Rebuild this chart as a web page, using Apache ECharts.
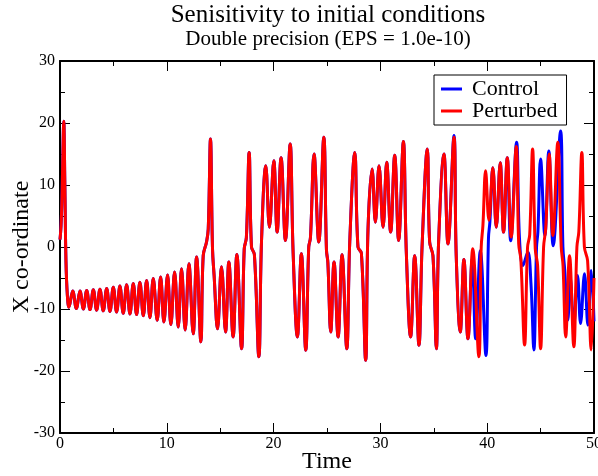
<!DOCTYPE html>
<html>
<head>
<meta charset="utf-8">
<script src="https://cdn.jsdelivr.net/npm/echarts@6/dist/echarts.min.js"></script>
<style>
html,body{margin:0;padding:0;background:#fff;}
#chart{width:598px;height:476px;}
</style>
</head>
<body>
<div id="chart"></div>
<script>
// ---- data ----
var chartTitle = 'Senisitivity to initial conditions';
var chartSubtitle = 'Double precision (EPS = 1.0e-10)';
var xTitle = 'Time';
var yTitle = 'X co-ordinate';
var seriesNames = ['Control', 'Perturbed'];

// part of the trajectory where both runs coincide
var sharedTime = [0, 0.1, 0.2, 0.28, 0.35, 0.46, 0.56, 0.69, 0.84,
  1.19, 1.53, 1.87, 2.19, 2.50, 2.81, 3.12, 3.43, 3.74, 4.05, 4.37, 4.68, 4.99, 5.30, 5.61, 5.92, 6.24, 6.55, 6.86, 7.17,
  7.48, 7.80, 8.11, 8.42, 8.73, 9.10, 9.42, 9.73, 10.07, 10.38, 10.73, 11.07, 11.38, 11.72, 12.07, 12.47, 12.79, 13.19,
  13.41, 13.72, 13.88, 14.09, 14.28, 14.43, 14.75,
  15.12, 15.5, 15.81, 16.21, 16.56, 17.0,
  17.25, 17.45, 17.71, 17.93, 18.2, 18.62,
  18.87, 19.27, 19.61, 20.02, 20.33, 20.7, 21.11, 21.55, 21.83, 22.23, 22.6, 23.01,
  23.29, 23.45, 23.79, 24.23, 24.7, 24.95, 25.08, 25.35, 25.66, 26.04, 26.41, 26.85,
  27.13, 27.6, 27.9, 28.22, 28.62,
  28.84, 29.22, 29.53, 29.87, 30.25, 30.59, 30.96, 31.34, 31.71, 32.15, 32.43, 32.83, 33.21, 33.61,
  33.9, 34.39, 34.61, 34.92, 35.24, 35.45, 35.95, 36.33];
var sharedX = [1.2, 3.5, 9, 16, 20.3, 9.3, -2.4, -7.8, -9.7,
  -7.1, -9.9, -7.1, -10.0, -7.0, -10.1, -6.9, -10.2, -6.8, -10.3, -6.7, -10.4, -6.5, -10.5, -6.3, -10.7, -6.1, -10.8, -5.9, -10.9,
  -5.7, -11.1, -5.4, -11.4, -5.1, -11.8, -4.85, -12.1, -4.5, -12.5, -4.05, -12.9, -3.5, -13.4, -2.7, -14.0, -1.6, -15.3,
  -1.4, 0.8, 2.9, 17.4, -0.3, -4.6, -13.2,
  -3.2, -13.7, -2.4, -14.5, -1.2, -16.4,
  -0.3, 1.5, 15.25, 0, -1.2, -17.7,
  1.0, 13.1, 3.2, 13.9, 2.4, 14.4, 1.05, 16.6, -1.0, -14.5, -1.1, -16.65,
  0, 1.5, 15.0, 0.8, 17.7, -0.5, -2.5, -13.7, -2.4, -14.5, -1.25, -16.4,
  0.8, 15.25, 0, -1.0, -18.25,
  2.9, 12.6, 4.0, 13.1, 3.2, 13.65, 2.4, 14.8, 1.05, 17.0, -1.0, -14.5, -1.4, -15.85,
  0, 15.8, 0.8, -1.4, -16.4, 0.8, 15.0, 0.5];

// Control run after the shared part
var controlTime = [36.89, 37.1, 37.48, 37.82, 38.2, 38.6, 38.92, 39.36, 39.88, 40.12,
  40.25, 40.53, 40.85, 41.22, 41.53, 41.88, 42.2, 42.75, 43.02, 43.35,
  43.8, 44.1, 44.37, 44.62, 44.75, 45.0, 45.4, 45.77, 46.18, 46.87,
  47.09, 47.25, 47.55, 47.77, 48.11, 48.46, 48.74, 49.11, 49.43, 49.74, 50];
var controlX = [18.0, -1.4, -13.7, -2.0, -14.8, -1.9, -14.8, -0.6, -17.5, 1.5,
  4.0, 12.8, 3.2, 13.6, 2.4, 14.4, 1.0, 16.9, 1.5, -3.0,
  -0.8, -6.0, -16.6, 0, 2.5, 14.2, 1.85, 15.5, 0.2, 18.7,
  0, -3.5, -11.8, -4.85, -12.5, -4.6, -12.35, -4.3, -12.6, -3.8, -12];

// Perturbed run after the shared part
var perturbedTime = [36.89, 37.1, 37.48, 37.82, 38.2, 38.65, 39.22, 39.44, 39.6, 39.85,
  40.16, 40.53, 40.85, 41.22, 41.53, 41.88, 42.25, 42.72, 42.95, 43.15,
  43.5, 43.78, 43.98, 44.25, 44.5, 44.72, 45.0, 45.28, 45.48, 45.8,
  46.15, 46.61, 46.93, 47.1, 47.35, 47.71, 48.11, 48.4, 48.58, 48.86,
  49.1, 49.4, 49.74, 50];
var perturbedX = [17.7, -1.4, -13.7, -2.0, -14.8, -0.3, -17.7, 0, 3.5, 12.3,
  4.3, 12.8, 3.2, 13.6, 2.4, 14.4, 1.6, 16.2, 0.5, -2.0,
  -15.8, 0, 2.0, 15.8, -0.3, -3.0, -16.4, 0, 3.0, 15.0,
  1.85, 16.9, 0, -3.0, -14.5, -1.4, -16.1, 0, 2.5, 15.25,
  0, -2.2, -16.6, -5];

// ---- build ----
function zip(t, v) { var out = []; for (var i = 0; i < t.length; i++) out.push([t[i], v[i]]); return out; }
var shared = zip(sharedTime, sharedX);
var controlData = shared.concat(zip(controlTime, controlX));
var perturbedData = shared.concat(zip(perturbedTime, perturbedX));

var SERIF = '"Liberation Serif", "DejaVu Serif", serif';
function axisX(pos, showLabel) {
  return {
    type: 'value', position: pos, min: 0, max: 50, interval: 10,
    axisLine: { show: true, onZero: false, lineStyle: { color: '#000', width: 2 } },
    axisTick: { show: true, inside: true, length: 10, lineStyle: { color: '#000', width: 1 } },
    minorTick: { show: true, splitNumber: 2, length: 5, lineStyle: { color: '#000', width: 1 } },
    splitLine: { show: false },
    axisLabel: { show: showLabel, color: '#000', fontFamily: SERIF, fontSize: 16, margin: 3 },
    name: showLabel ? xTitle : '', nameLocation: 'middle', nameGap: 17, nameMoveOverlap: false,
    nameTextStyle: { color: '#000', fontFamily: SERIF, fontSize: 24 }
  };
}
function axisY(pos, showLabel) {
  return {
    type: 'value', position: pos, min: -30, max: 30, interval: 10,
    axisLine: { show: true, onZero: false, lineStyle: { color: '#000', width: 2 } },
    axisTick: { show: true, inside: true, length: 10, lineStyle: { color: '#000', width: 1 } },
    minorTick: { show: true, splitNumber: 2, length: 5, lineStyle: { color: '#000', width: 1 } },
    splitLine: { show: false },
    axisLabel: { show: showLabel, color: '#000', fontFamily: SERIF, fontSize: 16, margin: 5 },
    name: showLabel ? yTitle : '', nameLocation: 'middle', nameGap: 26, nameMoveOverlap: false,
    nameTextStyle: { color: '#000', fontFamily: SERIF, fontSize: 24 }
  };
}

var chart = echarts.init(document.getElementById('chart'), null, { renderer: 'canvas' });
chart.setOption({
  animation: false,
  backgroundColor: '#fff',
  title: {
    text: chartTitle, subtext: chartSubtitle,
    left: 328, top: 3, textAlign: 'center', padding: 0, itemGap: 1,
    textStyle: { color: '#000', fontFamily: SERIF, fontSize: 25, fontWeight: 'normal' },
    subtextStyle: { color: '#000', fontFamily: SERIF, fontSize: 21 }
  },
  legend: {
    data: seriesNames, orient: 'vertical', left: 434, top: 75,
    icon: 'rect', itemWidth: 21, itemHeight: 3, itemGap: 0,
    padding: [3, 9, 3, 7],
    borderColor: '#000', borderWidth: 1, backgroundColor: '#fff',
    textStyle: { color: '#000', fontFamily: SERIF, fontSize: 22, lineHeight: 18, padding: [0, 0, 0, 5] }
  },
  grid: { left: 60, right: 4, top: 61, bottom: 43, containLabel: false, outerBoundsMode: 'none' },
  xAxis: [axisX('bottom', true), axisX('top', false)],
  yAxis: [axisY('left', true), axisY('right', false)],
  series: [
    { name: seriesNames[0], type: 'line', data: controlData, xAxisIndex: 0, yAxisIndex: 0,
      symbol: 'none', smooth: 0.4, z: 2,
      lineStyle: { color: '#0000ff', width: 3 }, itemStyle: { color: '#0000ff' } },
    { name: seriesNames[1], type: 'line', data: perturbedData, xAxisIndex: 0, yAxisIndex: 0,
      symbol: 'none', smooth: 0.4, z: 3,
      lineStyle: { color: '#ff0000', width: 3 }, itemStyle: { color: '#ff0000' } }
  ]
});
</script>
</body>
</html>
